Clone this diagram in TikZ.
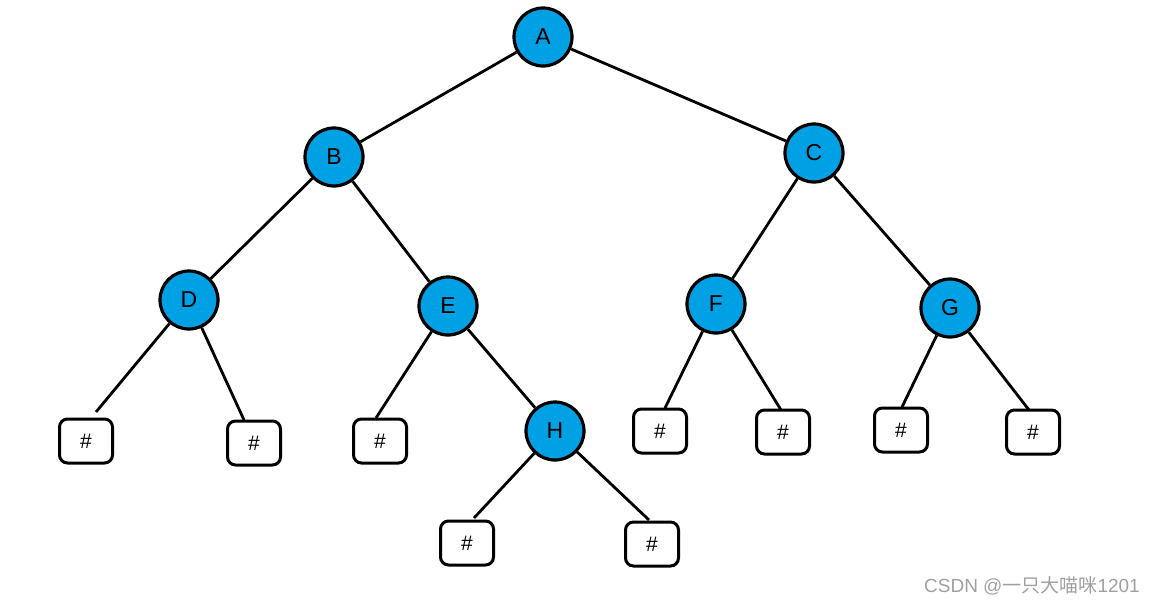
\documentclass[tikz,border=0pt]{standalone}
\usepackage{fontspec}
\setmainfont{Liberation Sans}
\newfontfamily\cjk{Noto Sans CJK SC}
\definecolor{nodeblue}{RGB}{0,160,228}
\definecolor{wmgray}{RGB}{160,160,160}
\begin{document}
\begin{tikzpicture}[x=1pt,y=-1pt,
  tnode/.style={circle,draw=black,line width=3.2pt,fill=nodeblue,minimum size=58pt,inner sep=0pt,font=\fontsize{23}{25}\selectfont},
  nullbox/.style={rectangle,rounded corners=8pt,draw=black,line width=3pt,fill=white,minimum width=53pt,minimum height=44pt,inner sep=0pt,font=\fontsize{21}{23}\selectfont},
  edge/.style={line width=2.8pt}]
\useasboundingbox (0,0) rectangle (1156,606);
% tree nodes
\node[tnode] (A) at (543,37) {A};
\node[tnode] (B) at (334,157) {B};
\node[tnode] (C) at (814,153) {C};
\node[tnode] (D) at (189,300) {D};
\node[tnode] (E) at (448,306) {E};
\node[tnode] (F) at (716,304) {F};
\node[tnode] (G) at (950,308) {G};
\node[tnode] (H) at (555,431) {H};
% null boxes
\node[nullbox] (dl) at (86,441) {\#};
\node[nullbox] (dr) at (254,443) {\#};
\node[nullbox] (el) at (380,441) {\#};
\node[nullbox] (fl) at (660,431) {\#};
\node[nullbox] (fr) at (783,432) {\#};
\node[nullbox] (gl) at (901,430) {\#};
\node[nullbox] (gr) at (1033,432) {\#};
\node[nullbox] (hl) at (467,543) {\#};
\node[nullbox] (hr) at (652,544) {\#};
% free ends above boxes
\coordinate (dlt) at (96,412);
\coordinate (drt) at (244,420);
\coordinate (elt) at (376,418);
\coordinate (flt) at (665,408);
\coordinate (frt) at (781,410);
\coordinate (glt) at (902,407);
\coordinate (grt) at (1029,410);
\coordinate (hlt) at (474,518);
\coordinate (hrt) at (649,520);
% edges between tree nodes
\draw[edge] (A) -- (B);
\draw[edge] (A) -- (C);
\draw[edge] (B) -- (D);
\draw[edge] (B) -- (E);
\draw[edge] (C) -- (F);
\draw[edge] (C) -- (G);
\draw[edge] (E) -- (H);
% edges to null boxes
\draw[edge] (D) -- (dlt);
\draw[edge] (D) -- (drt);
\draw[edge] (E) -- (elt);
\draw[edge] (F) -- (flt);
\draw[edge] (F) -- (frt);
\draw[edge] (G) -- (glt);
\draw[edge] (G) -- (grt);
\draw[edge] (H) -- (hlt);
\draw[edge] (H) -- (hrt);
% watermark
\node[anchor=east,text=wmgray,inner sep=0pt,font=\fontsize{19}{21}\selectfont] (wm) at (1140,586) {CSDN @{\cjk 一只大喵咪}1201};
\end{tikzpicture}
\end{document}
